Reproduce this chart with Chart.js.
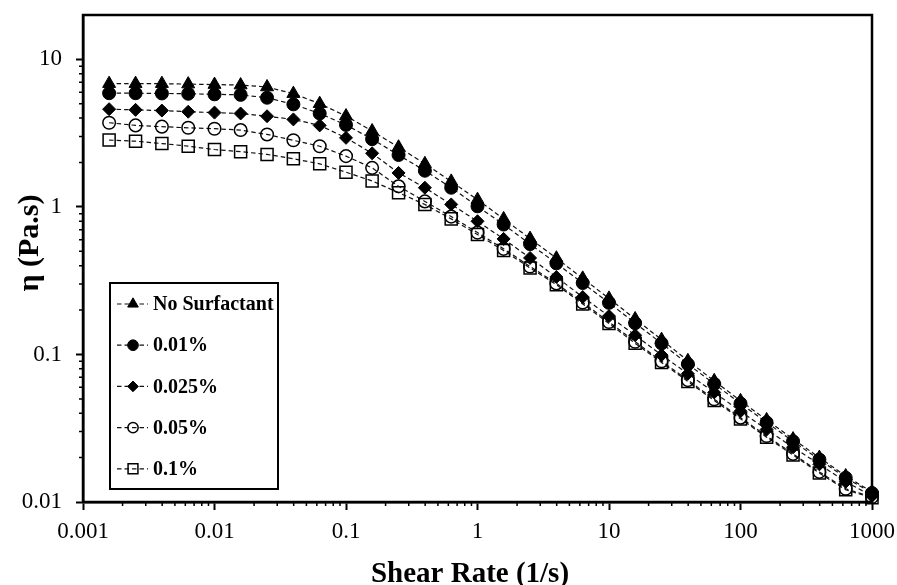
<!DOCTYPE html>
<html>
<head>
<meta charset="utf-8">
<script src="https://cdn.jsdelivr.net/npm/chart.js"></script>
<style>
  html, body { margin: 0; padding: 0; background: #fff; }
  #chart { display: block; }
</style>
</head>
<body>
<canvas id="chart" width="897" height="585"></canvas>
<script>
// shear rate sweep, 5 points per decade (1/s)
const shearRate = [0.00158, 0.00251, 0.00398, 0.00631, 0.01, 0.0158, 0.0251, 0.0398, 0.0631, 0.1,
  0.158, 0.251, 0.398, 0.631, 1, 1.58, 2.51, 3.98, 6.31, 10,
  15.8, 25.1, 39.8, 63.1, 100, 158, 251, 398, 631, 1000];

// viscosity (Pa.s) per surfactant concentration
const etaNoSurf = [6.85, 6.85, 6.85, 6.8, 6.75, 6.7, 6.5, 5.86, 5.01, 4.13,
  3.27, 2.54, 1.96, 1.49, 1.12, 0.83, 0.61, 0.449, 0.328, 0.240,
  0.174, 0.126, 0.0906, 0.0663, 0.0485, 0.0360, 0.0267, 0.0200, 0.0150, 0.0117];
const eta001 = [5.9, 5.9, 5.88, 5.85, 5.8, 5.75, 5.5, 4.96, 4.3, 3.6,
  2.88, 2.25, 1.76, 1.35, 1.01, 0.76, 0.56, 0.415, 0.305, 0.224,
  0.163, 0.119, 0.0860, 0.0632, 0.0465, 0.0346, 0.0258, 0.0194, 0.0146, 0.0115];
const eta0025 = [4.6, 4.55, 4.5, 4.42, 4.36, 4.3, 4.12, 3.92, 3.57, 2.94,
  2.31, 1.70, 1.35, 1.04, 0.80, 0.607, 0.451, 0.335, 0.245, 0.182,
  0.135, 0.099, 0.0740, 0.0553, 0.0412, 0.0310, 0.0235, 0.0180, 0.0137, 0.0110];
const eta005 = [3.72, 3.57, 3.50, 3.44, 3.39, 3.32, 3.10, 2.83, 2.58, 2.21,
  1.84, 1.38, 1.09, 0.86, 0.67, 0.52, 0.395, 0.303, 0.225, 0.166,
  0.122, 0.090, 0.0670, 0.0497, 0.0373, 0.0280, 0.0212, 0.0160, 0.0123, 0.0108];
const eta01 = [2.84, 2.79, 2.69, 2.58, 2.45, 2.37, 2.27, 2.12, 1.96, 1.72,
  1.50, 1.25, 1.04, 0.83, 0.65, 0.506, 0.386, 0.297, 0.220, 0.162,
  0.119, 0.0883, 0.0656, 0.0487, 0.0366, 0.0275, 0.0208, 0.0157, 0.0121, 0.0107];

const seriesNames = ["No Surfactant", "0.01%", "0.025%", "0.05%", "0.1%"];
const xTicks = [0.001, 0.01, 0.1, 1, 10, 100, 1000];
const yTicks = [0.01, 0.1, 1, 10];
const xTitle = "Shear Rate (1/s)";
const yTitle = "η (Pa.s)";

const SERIF = '"Liberation Serif", "Times New Roman", serif';

const pts = (ys) => shearRate.map((x, i) => ({ x, y: ys[i] }));

function series(label, ys, style, radius, filled){
  return {
    label,
    data: pts(ys),
    borderColor: "#111",
    borderWidth: 1.2,
    borderDash: [4.5, 3],
    pointStyle: style,
    pointRadius: radius,
    pointBackgroundColor: filled ? "#000" : "rgba(255,255,255,0)",
    pointBorderColor: "#000",
    pointBorderWidth: filled ? 1 : 1.5,
    clip: false,
    tension: 0
  };
}

// 2..9 x each decade, for the short minor ticks
function minorValues(majors, max){
  const out = [];
  majors.forEach(m => { for (let k = 2; k <= 9; k++){ const v = m * k; if (v < max * 0.999) out.push(v); } });
  return out;
}

// fixed axis box sizes, no extra room for overhanging labels
function fixBox(size, horizontal){
  return (s) => {
    if (horizontal) s.height = size; else s.width = size;
    s.paddingTop = 0; s.paddingBottom = 0; s.paddingLeft = 0; s.paddingRight = 0;
  };
}

const extras = {
  id: "extras",
  afterDraw(chart){
    const { ctx, chartArea: a, scales: { x, y } } = chart;
    ctx.save();

    // frame
    ctx.strokeStyle = "#000";
    ctx.lineWidth = 2.5;
    ctx.strokeRect(a.left, a.top, a.right - a.left, a.bottom - a.top);

    // minor ticks
    ctx.lineWidth = 1.5;
    ctx.beginPath();
    minorValues(xTicks, x.max).forEach(v => {
      const px = x.getPixelForValue(v);
      ctx.moveTo(px, a.bottom); ctx.lineTo(px, a.bottom + 4);
    });
    minorValues(yTicks, y.max).forEach(v => {
      const py = y.getPixelForValue(v);
      ctx.moveTo(a.left, py); ctx.lineTo(a.left - 4, py);
    });
    ctx.stroke();

    // axis titles
    ctx.fillStyle = "#000";
    ctx.font = "bold 29px " + SERIF;
    ctx.textAlign = "center";
    ctx.textBaseline = "alphabetic";
    ctx.fillText(xTitle, 470, 582);
    ctx.save();
    ctx.translate(38, 243);
    ctx.rotate(-Math.PI / 2);
    ctx.font = "bold 30px " + SERIF;
    ctx.fillText(yTitle, 0, 0);
    ctx.restore();

    // legend box
    const lx = 110, ly = 283, lw = 168, lh = 206;
    ctx.fillStyle = "#fff";
    ctx.fillRect(lx, ly, lw, lh);
    ctx.lineWidth = 2;
    ctx.strokeStyle = "#000";
    ctx.strokeRect(lx, ly, lw, lh);

    ctx.font = "bold 20px " + SERIF;
    ctx.textAlign = "left";
    ctx.textBaseline = "middle";
    chart.data.datasets.forEach((ds, i) => {
      const cy = 304 + i * 41.2;
      ctx.strokeStyle = ds.borderColor;
      ctx.lineWidth = ds.borderWidth;
      ctx.setLineDash(ds.borderDash);
      ctx.beginPath();
      ctx.moveTo(117, cy); ctx.lineTo(148, cy);
      ctx.stroke();
      ctx.setLineDash([]);
      ctx.fillStyle = ds.pointBackgroundColor;
      ctx.strokeStyle = ds.pointBorderColor;
      ctx.lineWidth = ds.pointBorderWidth;
      Chart.helpers.drawPoint(ctx, {
        pointStyle: ds.pointStyle,
        radius: ds.pointRadius * 0.82,
        borderWidth: ds.pointBorderWidth,
        rotation: 0
      }, 133, cy);
      ctx.fillStyle = "#000";
      ctx.fillText(ds.label, 153, cy + 1);
    });

    ctx.restore();
  }
};

new Chart(document.getElementById("chart"), {
  type: "line",
  data: {
    datasets: [
      series(seriesNames[0], etaNoSurf, "triangle", 7.5, true),
      series(seriesNames[1], eta001, "circle", 6.5, true),
      series(seriesNames[2], eta0025, "rectRot", 6.5, true),
      series(seriesNames[3], eta005, "circle", 6.3, false),
      series(seriesNames[4], eta01, "rect", 8.5, false)
    ]
  },
  options: {
    responsive: false,
    animation: false,
    events: [],
    layout: { autoPadding: false, padding: { left: 0, right: 25, top: 15, bottom: 0 } },
    plugins: { legend: { display: false }, tooltip: { enabled: false } },
    scales: {
      x: {
        type: "logarithmic",
        min: 0.001,
        max: 1000,
        afterBuildTicks: s => { s.ticks = xTicks.map(v => ({ value: v })); },
        afterFit: fixBox(83, true),
        ticks: {
          autoSkip: false, maxRotation: 0, padding: 8, color: "#000",
          font: { family: SERIF, size: 23 },
          callback: v => String(v)
        },
        grid: { drawOnChartArea: false, tickLength: 8, tickWidth: 2, tickColor: "#000" },
        border: { color: "#000", width: 2.5 }
      },
      y: {
        type: "logarithmic",
        min: 0.01,
        max: 20,
        afterBuildTicks: s => { s.ticks = yTicks.map(v => ({ value: v })); },
        afterFit: fixBox(83, false),
        ticks: {
          autoSkip: false, padding: 14, color: "#000",
          font: { family: SERIF, size: 23 },
          callback: v => String(v)
        },
        grid: { drawOnChartArea: false, tickLength: 7, tickWidth: 2, tickColor: "#000" },
        border: { color: "#000", width: 2.5 }
      }
    }
  },
  plugins: [extras]
});
</script>
</body>
</html>
